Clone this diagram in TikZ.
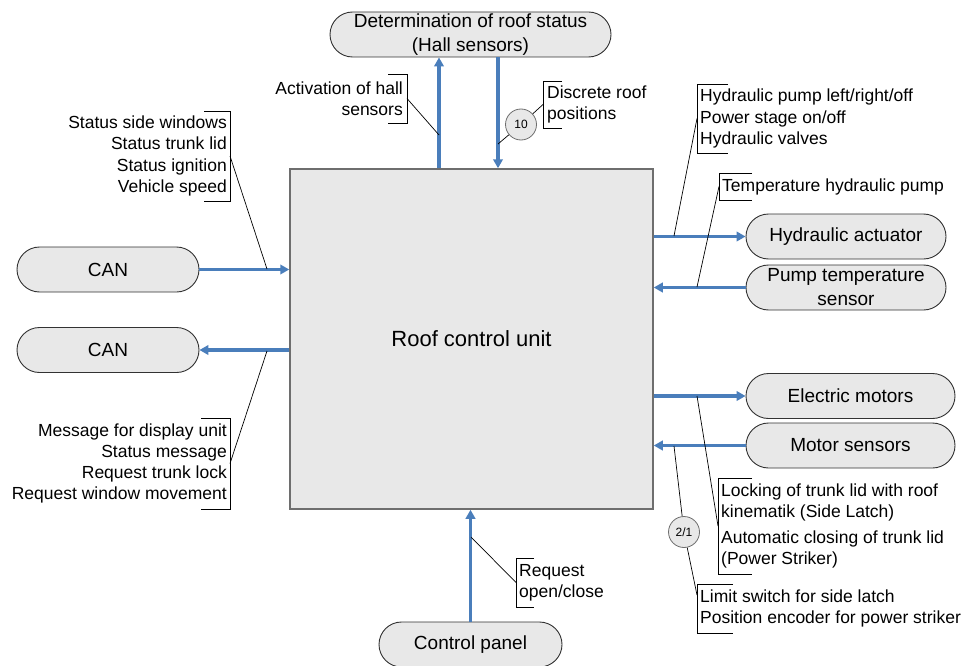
\documentclass[tikz,border=0pt]{standalone}
\usepackage{fontspec}
\setmainfont{Liberation Sans}
\usetikzlibrary{arrows.meta}
\definecolor{sigblue}{RGB}{74,126,187}
\definecolor{boxfill}{RGB}{232,232,232}
\definecolor{boxedge}{RGB}{110,110,110}
\definecolor{nodeedge}{RGB}{50,50,50}

% bracket of a callout, text on its left: name, x of bar, y of middle, height, tick
\newcommand\bracketR[5]{%
  \node[brk, minimum width=#5pt, minimum height=#4pt, anchor=east] (#1) at (#2,#3) {};
  \draw[brkline] (#1.north west) -- (#1.north east) -- (#1.south east) -- (#1.south west);}
% bracket of a callout, text on its right
\newcommand\bracketL[5]{%
  \node[brk, minimum width=#5pt, minimum height=#4pt, anchor=west] (#1) at (#2,#3) {};
  \draw[brkline] (#1.north east) -- (#1.north west) -- (#1.south west) -- (#1.south east);}

\begin{document}
\begin{tikzpicture}[x=1pt,y=-1pt,
  unit/.style={draw=boxedge, fill=boxfill, line width=1.5pt, minimum width=363pt,
    minimum height=340pt, inner sep=0pt, font=\fontsize{22}{26}\selectfont},
  ext/.style={draw=nodeedge, fill=boxfill, line width=0.9pt, rounded corners=22.5pt,
    minimum height=45pt, inner sep=0pt, align=center, font=\fontsize{19}{24}\selectfont},
  sig/.style={draw=sigblue, line width=3.2pt, -{Triangle[length=9pt,width=9.5pt]}},
  lead/.style={draw=black, line width=0.7pt},
  brk/.style={rectangle, inner sep=0pt, outer sep=0pt, draw=none},
  brkline/.style={draw=black, line width=0.8pt},
  lbl/.style={inner sep=0pt, font=\fontsize{17.5}{21.3}\selectfont},
  num/.style={circle, draw=boxedge, fill=boxfill, line width=0.8pt, minimum size=31pt,
    inner sep=0pt, font=\fontsize{12}{14}\selectfont},
]
\useasboundingbox (0,0) rectangle (963,666);
\fill[white] (0,0) rectangle (963,666);

% control unit and connected parts
\node[unit] (unit) at (471.5,339) {Roof control unit};
\node[ext, minimum width=281pt] (hall) at (470.5,34.5) {Determination of roof status\\(Hall sensors)};
\node[ext, minimum width=182pt] (can1) at (108,269.5) {CAN};
\node[ext, minimum width=182pt] (can2) at (108,350) {CAN};
\node[ext, minimum width=200pt] (hyd) at (846,236.5) {Hydraulic actuator};
\node[ext, minimum width=200pt] (pts) at (846,287.5) {Pump temperature\\sensor};
\node[ext, minimum width=209pt] (em) at (850.5,396) {Electric motors};
\node[ext, minimum width=209pt] (ms) at (850.5,445.5) {Motor sensors};
\node[ext, minimum width=183pt] (cp) at (470.5,644.5) {Control panel};

% signal flow
\coordinate (xUp) at (439,0);
\coordinate (xDown) at (498,0);
\draw[sig] (unit.north -| xUp) -- (hall.south -| xUp);
\draw[sig] (hall.south -| xDown) -- (unit.north -| xDown);
\draw[sig] (can1.east) -- (unit.west |- can1.east);
\draw[sig] (unit.west |- can2.east) -- (can2.east);
\draw[sig] (unit.east |- hyd.west) -- (hyd.west);
\draw[sig] (pts.west) -- (unit.east |- pts.west);
\draw[sig] (unit.east |- em.west) -- (em.west);
\draw[sig] (ms.west) -- (unit.east |- ms.west);
\draw[sig] (cp.north) -- (unit.south -| cp.north);

% callout brackets
\bracketR{bAct}{407}{98.5}{49}{19}
\bracketL{bDisc}{543}{104.5}{47}{19}
\bracketR{bStat}{230}{156}{90}{26}
\bracketR{bMsg}{230}{463.5}{91}{29}
\bracketL{bHp}{697}{118.5}{69}{31}
\bracketL{bTemp}{719}{186.5}{27}{33}
\bracketL{bLock}{718}{526}{96}{34}
\bracketL{bLim}{697}{608.5}{49}{36}
\bracketL{bReq}{516}{582.5}{49}{18}

% callout texts
\node[lbl, anchor=east, align=right] (tAct) at ([xshift=-4pt]bAct.east) {Activation of hall\\sensors};
\node[lbl, anchor=west, align=left] (tDisc) at ([xshift=4pt]bDisc.west) {Discrete roof\\positions};
\node[lbl, anchor=east, align=right] (tStat) at ([xshift=-3pt]bStat.east) {Status side windows\\Status trunk lid\\Status ignition\\Vehicle speed};
\node[lbl, anchor=east, align=right] (tMsg) at ([xshift=-3pt]bMsg.east) {Message for display unit\\Status message\\Request trunk lock\\Request window movement};
\node[lbl, anchor=west, align=left] (tHp) at ([xshift=3pt]bHp.west) {Hydraulic pump left/right/off\\Power stage on/off\\Hydraulic valves};
\node[lbl, anchor=west, align=left] (tTemp) at ([xshift=3pt]bTemp.west) {Temperature hydraulic pump};
\node[lbl, anchor=west, align=left] (tLock) at ([xshift=3pt]bLock.west) {Locking of trunk lid with roof\\kinematik (Side Latch)\\[4pt]Automatic closing of trunk lid\\(Power Striker)};
\node[lbl, anchor=west, align=left] (tLim) at ([xshift=3pt]bLim.west) {Limit switch for side latch\\Position encoder for power striker};
\node[lbl, anchor=west, align=left] (tReq) at ([xshift=3pt]bReq.west) {Request\\open/close};

% line counts
\node[num] (c10) at (521,124.5) {10};
\node[num] (c21) at (684,532) {2/1};

% leader lines from callouts to signals
\coordinate (pAct) at (439,135);
\coordinate (pDisc) at (498,144);
\coordinate (pStat) at (267,269);
\coordinate (pMsg) at (267,351);
\coordinate (pHp) at (674,236);
\coordinate (pTemp) at (697,287);
\coordinate (pLock) at (697,396);
\coordinate (pLim) at (674,446);
\coordinate (qLim) at (697,595);
\coordinate (pReq) at (471,537);
\draw[lead] (bAct.east) -- (pAct);
\draw[lead] (bDisc.west) -- (c10) -- (pDisc);
\draw[lead] (bStat.east) -- (pStat);
\draw[lead] (bMsg.east) -- (pMsg);
\draw[lead] (bHp.west) -- (pHp);
\draw[lead] (bTemp.west) -- (pTemp);
\draw[lead] (bLock.west) -- (pLock);
\draw[lead] (pLim) -- (c21) -- (qLim);
\draw[lead] (bReq.west) -- (pReq);
\end{tikzpicture}
\end{document}
